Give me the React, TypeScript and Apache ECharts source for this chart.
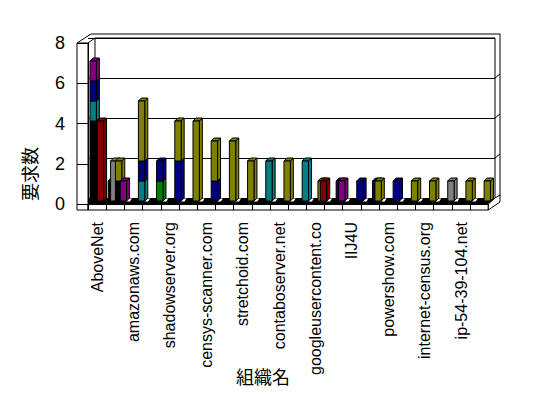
import React, { useEffect, useRef } from "react";
import * as echarts from "echarts";

// ---- data ----
const categories = [
  "AboveNet", "", "amazonaws.com", "", "shadowserver.org", "", "censys-scanner.com", "",
  "stretchoid.com", "", "contaboserver.net", "", "googleusercontent.co", "", "IIJ4U", "",
  "powershow.com", "", "internet-census.org", "", "ip-54-39-104.net", "",
];
const yTicks = [0, 2, 4, 6, 8];
const yAxisTitle = "要求数";
const xAxisTitle = "組織名";

// stacking order of the series (bottom -> top)
const seriesNames = ["black", "maroon", "green", "teal", "navy", "purple", "olive", "gray"];

// values per series and cluster (cluster 0 = leftmost bar within a category, 5 = rightmost)
const black_c0 = [4, 1, 0, 0, 0, 0, 0, 0, 0, 0, 0, 0, 0, 0, 0, 0, 0, 0, 0, 0, 0, 0];
const teal_c0 = [1, 0, 0, 0, 0, 0, 0, 0, 0, 0, 0, 0, 0, 0, 0, 0, 0, 0, 0, 0, 0, 0];
const navy_c0 = [1, 0, 0, 0, 0, 0, 0, 0, 0, 0, 0, 0, 0, 0, 0, 0, 0, 0, 0, 0, 0, 0];
const purple_c0 = [1, 0, 0, 0, 0, 0, 0, 0, 0, 0, 0, 0, 0, 0, 0, 0, 0, 0, 0, 0, 0, 0];
const gray_c1 = [0, 2, 0, 0, 0, 0, 0, 0, 0, 0, 0, 0, 0, 0, 0, 0, 0, 0, 0, 0, 0, 0];
const black_c3 = [0, 1, 0, 0, 0, 0, 0, 0, 0, 0, 0, 0, 0, 0, 0, 0, 0, 0, 0, 0, 0, 0];
const maroon_c3 = [4, 0, 0, 0, 0, 0, 0, 0, 0, 0, 0, 0, 0, 0, 0, 0, 0, 0, 0, 0, 0, 0];
const olive_c3 = [0, 1, 0, 0, 0, 0, 0, 0, 0, 0, 0, 0, 0, 0, 0, 0, 0, 0, 0, 0, 0, 0];
const navy_c4 = [0, 0, 0, 0, 0, 0, 0, 0, 0, 0, 0, 0, 0, 1, 0, 1, 0, 0, 0, 0, 0, 0];
const olive_c4 = [0, 0, 0, 0, 0, 0, 0, 0, 0, 0, 0, 0, 1, 0, 0, 0, 0, 0, 0, 0, 0, 0];
const maroon_c5 = [0, 0, 0, 0, 0, 0, 0, 0, 0, 0, 0, 0, 1, 0, 0, 0, 0, 0, 0, 0, 0, 0];
const green_c5 = [0, 0, 0, 1, 0, 0, 0, 0, 0, 0, 0, 0, 0, 0, 0, 0, 0, 0, 0, 0, 0, 0];
const teal_c5 = [0, 0, 1, 0, 0, 0, 0, 0, 0, 2, 0, 2, 0, 0, 0, 0, 0, 0, 0, 0, 0, 0];
const navy_c5 = [0, 0, 1, 1, 2, 0, 1, 0, 0, 0, 0, 0, 0, 0, 1, 0, 1, 0, 0, 0, 0, 0];
const purple_c5 = [0, 1, 0, 0, 0, 0, 0, 0, 0, 0, 0, 0, 0, 1, 0, 0, 0, 0, 0, 0, 0, 0];
const olive_c5 = [0, 0, 3, 0, 2, 4, 2, 3, 2, 0, 2, 0, 0, 0, 0, 1, 0, 1, 1, 0, 1, 1];
const gray_c5 = [0, 0, 0, 0, 0, 0, 0, 0, 0, 0, 0, 0, 0, 0, 0, 0, 0, 0, 0, 1, 0, 0];

// ---- styles ----
const palette: Record<string, string> = {
  black: "#000000", maroon: "#800000", green: "#008000", teal: "#008080",
  navy: "#000080", purple: "#800080", olive: "#808000", gray: "#808080",
};

const table = [
  { name: "black", cluster: 0, values: black_c0 },
  { name: "teal", cluster: 0, values: teal_c0 },
  { name: "navy", cluster: 0, values: navy_c0 },
  { name: "purple", cluster: 0, values: purple_c0 },
  { name: "gray", cluster: 1, values: gray_c1 },
  { name: "black", cluster: 3, values: black_c3 },
  { name: "maroon", cluster: 3, values: maroon_c3 },
  { name: "olive", cluster: 3, values: olive_c3 },
  { name: "navy", cluster: 4, values: navy_c4 },
  { name: "olive", cluster: 4, values: olive_c4 },
  { name: "maroon", cluster: 5, values: maroon_c5 },
  { name: "green", cluster: 5, values: green_c5 },
  { name: "teal", cluster: 5, values: teal_c5 },
  { name: "navy", cluster: 5, values: navy_c5 },
  { name: "purple", cluster: 5, values: purple_c5 },
  { name: "olive", cluster: 5, values: olive_c5 },
  { name: "gray", cluster: 5, values: gray_c5 },
];

function buildItems() {
  const items: number[][] = [];
  // zero-height markers of the first cluster
  categories.forEach((_, k) => {
    const sum = table.filter((t) => t.cluster === 0).reduce((s, t) => s + t.values[k], 0);
    if (sum === 0) items.push([k, 0, 0, 0, -1]);
  });
  for (let c = 0; c < 6; c++) {
    for (let k = 0; k < categories.length; k++) {
      let base = 0;
      seriesNames.forEach((sn, si) => {
        table
          .filter((t) => t.cluster === c && t.name === sn)
          .forEach((t) => {
            const v = t.values[k];
            if (v > 0) {
              items.push([k, base, base + v, c, si]);
              base += v;
            }
          });
      });
    }
  }
  return items;
}

const L = (x1: number, y1: number, x2: number, y2: number) => ({
  type: "line", silent: true, z: 1,
  shape: { x1, y1, x2, y2 }, style: { stroke: "#000", lineWidth: 1 },
});

export default function App() {
  const ref = useRef<HTMLDivElement>(null);
  useEffect(() => {
    if (!ref.current) return;
    const chart = echarts.init(ref.current, undefined, { renderer: "svg" });
    const latin = '"Liberation Sans", Arial, sans-serif';
    const cjk = '"Noto Sans CJK JP", sans-serif';
    const items = buildItems();
    chart.setOption({
      animation: false,
      backgroundColor: "#fff",
      grid: [
        // front plane
        { left: 88, top: 43, width: 400.3, bottom: 194 },
        // back wall
        { left: 88, top: 38, width: 407, bottom: 200 },
        // bar plane
        { left: 90, top: 41, width: 400.3, bottom: 197 },
      ],
      xAxis: [
        {
          gridIndex: 0, type: "category", data: categories,
          axisLine: { show: true, lineStyle: { color: "#000", width: 1 } },
          axisTick: { show: true, interval: 0, length: 6, lineStyle: { color: "#000" } },
          axisLabel: { interval: 0, rotate: 90, margin: 18, color: "#000", fontSize: 16, fontFamily: latin },
          splitLine: { show: false },
        },
        { gridIndex: 1, type: "value", min: 0, max: 1, show: false },
        { gridIndex: 2, type: "category", data: categories, show: false },
      ],
      yAxis: [
        {
          gridIndex: 0, type: "value", min: 0, max: 8, interval: 2,
          axisLine: { show: true, lineStyle: { color: "#000" } },
          axisTick: { show: true, length: 11, lineStyle: { color: "#000" } },
          axisLabel: {
            margin: 23, color: "#000", fontSize: 18, fontFamily: latin,
            formatter: (v: number) => (yTicks.includes(v) ? String(v) : ""),
          },
          splitLine: { show: false },
        },
        {
          gridIndex: 1, type: "value", min: 0, max: 8, interval: 2,
          axisLine: { show: false }, axisTick: { show: false }, axisLabel: { show: false },
          splitLine: { show: true, lineStyle: { color: "#000", width: 1 } },
        },
        { gridIndex: 2, type: "value", min: 0, max: 8, interval: 2, show: false },
      ],
      graphic: [
        { type: "polygon", z: 1, silent: true, shape: { points: [[88, 204], [488.3, 204], [495, 198], [88, 198]] }, style: { fill: "#000" } },
        { type: "rect", z: 1, silent: true, shape: { x: 88, y: 204, width: 400.3, height: 6 }, style: { fill: "none", stroke: "#000" } },
        { type: "polygon", z: 1, silent: true, shape: { points: [[488.3, 204], [495, 198], [500, 195], [500, 202], [488.3, 210]] }, style: { fill: "#fff", stroke: "#000" } },
        { type: "rect", z: 1, silent: true, shape: { x: 77, y: 43, width: 11, height: 167 }, style: { fill: "none", stroke: "#000" } },
        L(77, 43, 91, 34), L(88, 43, 95, 38), L(91, 34, 500, 34), L(95, 38, 495, 38),
        L(95, 38, 95, 198), L(495, 38, 495, 198), L(500, 34, 500, 196),
        L(495, 78, 500, 74), L(495, 118, 500, 114), L(495, 158, 500, 154),
        {
          type: "text", x: 28.5, y: 174, rotation: Math.PI / 2, z: 3,
          style: { text: yAxisTitle, font: `18px ${cjk}`, fill: "#000", align: "center", verticalAlign: "middle" },
        },
        {
          type: "text", x: 263, y: 376, z: 3,
          style: { text: xAxisTitle, font: `18px ${cjk}`, fill: "#000", align: "center", verticalAlign: "middle" },
        },
      ],
      series: [
        {
          type: "custom",
          xAxisIndex: 2, yAxisIndex: 2,
          z: 5,
          data: items,
          encode: { x: 0, y: [1, 2] },
          renderItem: (_params: any, api: any) => {
            const k = api.value(0);
            const base = api.value(1);
            const top = api.value(2);
            const cl = api.value(3);
            const ci = api.value(4);
            const bw = api.size([1, 0])[0];
            const pb = api.coord([k, base]);
            const pt = api.coord([k, top]);
            const x0 = pb[0] - bw / 2 + cl * bw * 0.132;
            if (ci < 0) {
              const y = pb[1];
              return {
                type: "polygon",
                shape: { points: [[x0, y + 0.5], [x0 + 3.5, y + 0.5], [x0 + 5.5, y - 2.5], [x0 + 2, y - 2.5]] },
                style: { fill: "#fff" },
              };
            }
            const w = bw * 0.35;
            const d = 3;
            const yb = pb[1];
            const yt = pt[1];
            const st = { fill: palette[seriesNames[ci]], stroke: "#000", lineWidth: 1 };
            return {
              type: "group",
              children: [
                { type: "polygon", shape: { points: [[x0 + w, yb], [x0 + w, yt], [x0 + w + d, yt - d], [x0 + w + d, yb - d]] }, style: st },
                { type: "polygon", shape: { points: [[x0, yt], [x0 + w, yt], [x0 + w + d, yt - d], [x0 + d, yt - d]] }, style: st },
                { type: "rect", shape: { x: x0, y: yt, width: w, height: yb - yt }, style: st },
              ],
            };
          },
        },
      ],
    });
    return () => chart.dispose();
  }, []);
  return <div ref={ref} style={{ position: "fixed", left: 0, top: 0, width: 548, height: 398 }} />;
}
